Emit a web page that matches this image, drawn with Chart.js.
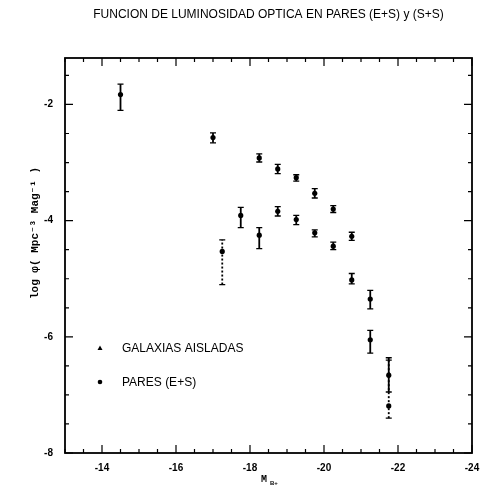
<!DOCTYPE html>
<html>
<head>
<meta charset="utf-8">
<script src="https://cdn.jsdelivr.net/npm/chart.js@4/dist/chart.umd.min.js"></script>
<style>
html,body{margin:0;padding:0;background:#fff;}
#wrap{width:482px;height:493px;position:relative;}
</style>
</head>
<body>
<div id="wrap"><canvas id="c"></canvas></div>
<script>
// ---- data ----
const magAisladas    = [-14.5, -17.0, -18.25, -18.75, -19.25, -19.75, -20.25, -20.75, -21.25, -21.75];
const logPhiAisladas = [-1.83, -2.57, -2.92, -3.11, -3.26, -3.53, -3.80, -4.27, -5.35, -6.66];
const errLoAisladas  = [-2.10, -2.66, -2.99, -3.19, -3.32, -3.61, -3.86, -4.34, -5.52, -6.95];
const errHiAisladas  = [-1.65, -2.49, -2.85, -3.03, -3.21, -3.45, -3.74, -4.20, -5.20, -6.36];

const magPares    = [-17.25, -17.75, -18.25, -18.75, -19.25, -19.75, -20.25, -20.75, -21.25, -21.75];
const logPhiPares = [-4.53, -3.91, -4.25, -3.84, -3.98, -4.21, -4.44, -5.02, -6.05, -7.19];
const errLoPares  = [-5.10, -4.12, -4.48, -3.92, -4.07, -4.28, -4.50, -5.09, -6.28, -7.40];
const errHiPares  = [-4.33, -3.77, -4.12, -3.76, -3.91, -4.16, -4.37, -4.91, -5.89, -6.40];

const xTickValues = [-14, -16, -18, -20, -22, -24];
const yTickValues = [-2, -4, -6, -8];

const titleText = 'FUNCION DE LUMINOSIDAD OPTICA EN PARES (E+S) y (S+S)';
const labelAisladas = 'GALAXIAS AISLADAS';
const labelPares = 'PARES (E+S)';

function pts(xs, ys){ return xs.map((x,i)=>({x:x, y:ys[i]})); }

const decor = {
  id: 'decor',
  afterDatasetsDraw(chart) {
    const ctx = chart.ctx, a = chart.chartArea;
    const xs = chart.scales.x, ys = chart.scales.y;
    ctx.save();
    // error bars
    chart.data.datasets.forEach((ds, di) => {
      const meta = chart.getDatasetMeta(di);
      ds.errLo.forEach((lo, i) => {
        const hi = ds.errHi[i];
        const px = meta.data[i].x;
        const y1 = ys.getPixelForValue(lo), y2 = ys.getPixelForValue(hi);
        ctx.strokeStyle = '#000';
        ctx.lineWidth = 1.8;
        ctx.setLineDash((ds.dashedErr || []).includes(i) ? [2, 2] : []);
        ctx.beginPath(); ctx.moveTo(px, y1); ctx.lineTo(px, y2); ctx.stroke();
        ctx.setLineDash([]);
        ctx.lineWidth = 1.3;
        ctx.beginPath();
        ctx.moveTo(px - 3, y1); ctx.lineTo(px + 3, y1);
        ctx.moveTo(px - 3, y2); ctx.lineTo(px + 3, y2);
        ctx.stroke();
      });
    });
    // frame
    ctx.strokeStyle = '#000';
    ctx.lineWidth = 1.8;
    ctx.strokeRect(a.left, a.top, a.right - a.left, a.bottom - a.top);
    // ticks (inward), major every 2, minor every 0.5
    ctx.lineWidth = 1.2;
    ctx.beginPath();
    for (let v = -13; v >= -24.001; v -= 0.5) {
      const px = xs.getPixelForValue(v);
      const major = Math.abs(v % 2) < 1e-6;
      const L = major ? 8 : 4;
      ctx.moveTo(px, a.bottom); ctx.lineTo(px, a.bottom - L);
      ctx.moveTo(px, a.top); ctx.lineTo(px, a.top + L);
    }
    for (let v = -8; v <= -1.2; v += 0.5) {
      const py = ys.getPixelForValue(v);
      const major = Math.abs(v % 2) < 1e-6;
      const L = major ? 8 : 4;
      ctx.moveTo(a.left, py); ctx.lineTo(a.left + L, py);
      ctx.moveTo(a.right, py); ctx.lineTo(a.right - L, py);
    }
    ctx.stroke();
    // title, centred over the plot frame
    ctx.fillStyle = '#000';
    ctx.textBaseline = 'middle';
    ctx.textAlign = 'center';
    ctx.font = '12px "Liberation Sans", Arial, sans-serif';
    ctx.fillText(titleText, (a.left + a.right) / 2, 15);
    // legend inside plot
    ctx.textAlign = 'left';
    const lx = 100;
    const rows = [{y: 348, label: labelAisladas, style: 'tri'}, {y: 382, label: labelPares, style: 'dot'}];
    rows.forEach(r => {
      ctx.beginPath();
      if (r.style === 'tri') {
        ctx.moveTo(lx, r.y - 2.5); ctx.lineTo(lx + 2.5, r.y + 2); ctx.lineTo(lx - 2.5, r.y + 2); ctx.closePath();
      } else {
        ctx.arc(lx, r.y, 2.3, 0, Math.PI * 2);
      }
      ctx.fill();
      ctx.fillText(r.label, 122, r.y + 1);
    });
    // y axis title (rotated)
    ctx.save();
    ctx.translate(35, 233);
    ctx.rotate(-Math.PI / 2);
    ctx.textAlign = 'center';
    ctx.font = 'bold 11px "Liberation Mono", "DejaVu Sans Mono", monospace';
    ctx.fillText('log \u03C6( Mpc\u207B\u00B3 Mag\u207B\u00B9 )', 0, 0);
    ctx.restore();
    // x axis title: M with subscript
    ctx.textAlign = 'left';
    ctx.font = 'bold 10px "Liberation Mono", monospace';
    ctx.fillText('M', 261, 479);
    ctx.font = 'bold 6px "Liberation Sans", sans-serif';
    ctx.fillText('B+', 270, 483);
    ctx.restore();
  }
};

new Chart(document.getElementById('c'), {
  type: 'scatter',
  data: {
    datasets: [
      {
        label: labelAisladas,
        data: pts(magAisladas, logPhiAisladas),
        errLo: errLoAisladas, errHi: errHiAisladas,
        pointStyle: 'circle', pointRadius: 2.6,
        backgroundColor: '#000', borderColor: '#000', borderWidth: 0
      },
      {
        label: labelPares,
        data: pts(magPares, logPhiPares),
        errLo: errLoPares, errHi: errHiPares, dashedErr: [0, 9],
        pointStyle: 'circle', pointRadius: 2.6,
        backgroundColor: '#000', borderColor: '#000', borderWidth: 0
      }
    ]
  },
  options: {
    responsive: true,
    maintainAspectRatio: false,
    animation: false,
    layout: { padding: { left: 0, right: 10, top: 58, bottom: 0 } },
    plugins: {
      legend: { display: false },
      tooltip: { enabled: false },
      title: { display: false }
    },
    scales: {
      x: {
        type: 'linear', min: -24, max: -13, reverse: true,
        afterBuildTicks: s => { s.ticks = xTickValues.map(v => ({ value: v })); },
        afterFit: s => { s.height = 40; s.paddingRight = 0; s.paddingLeft = 0; },
        grid: { display: false, drawTicks: false },
        border: { display: false },
        ticks: {
          color: '#000', padding: 9, maxRotation: 0, autoSkip: false,
          font: { family: '"Liberation Sans", Arial, sans-serif', size: 10, weight: 'bold' },
          callback: v => String(v)
        }
      },
      y: {
        type: 'linear', min: -8, max: -1.2,
        afterBuildTicks: s => { s.ticks = yTickValues.map(v => ({ value: v })); },
        afterFit: s => { s.width = 65; s.paddingTop = 0; s.paddingBottom = 0; },
        grid: { display: false, drawTicks: false },
        border: { display: false },
        ticks: {
          color: '#000', padding: 12, autoSkip: false,
          font: { family: '"Liberation Sans", Arial, sans-serif', size: 10, weight: 'bold' },
          callback: v => String(v)
        }
      }
    }
  },
  plugins: [decor]
});
</script>
</body>
</html>
